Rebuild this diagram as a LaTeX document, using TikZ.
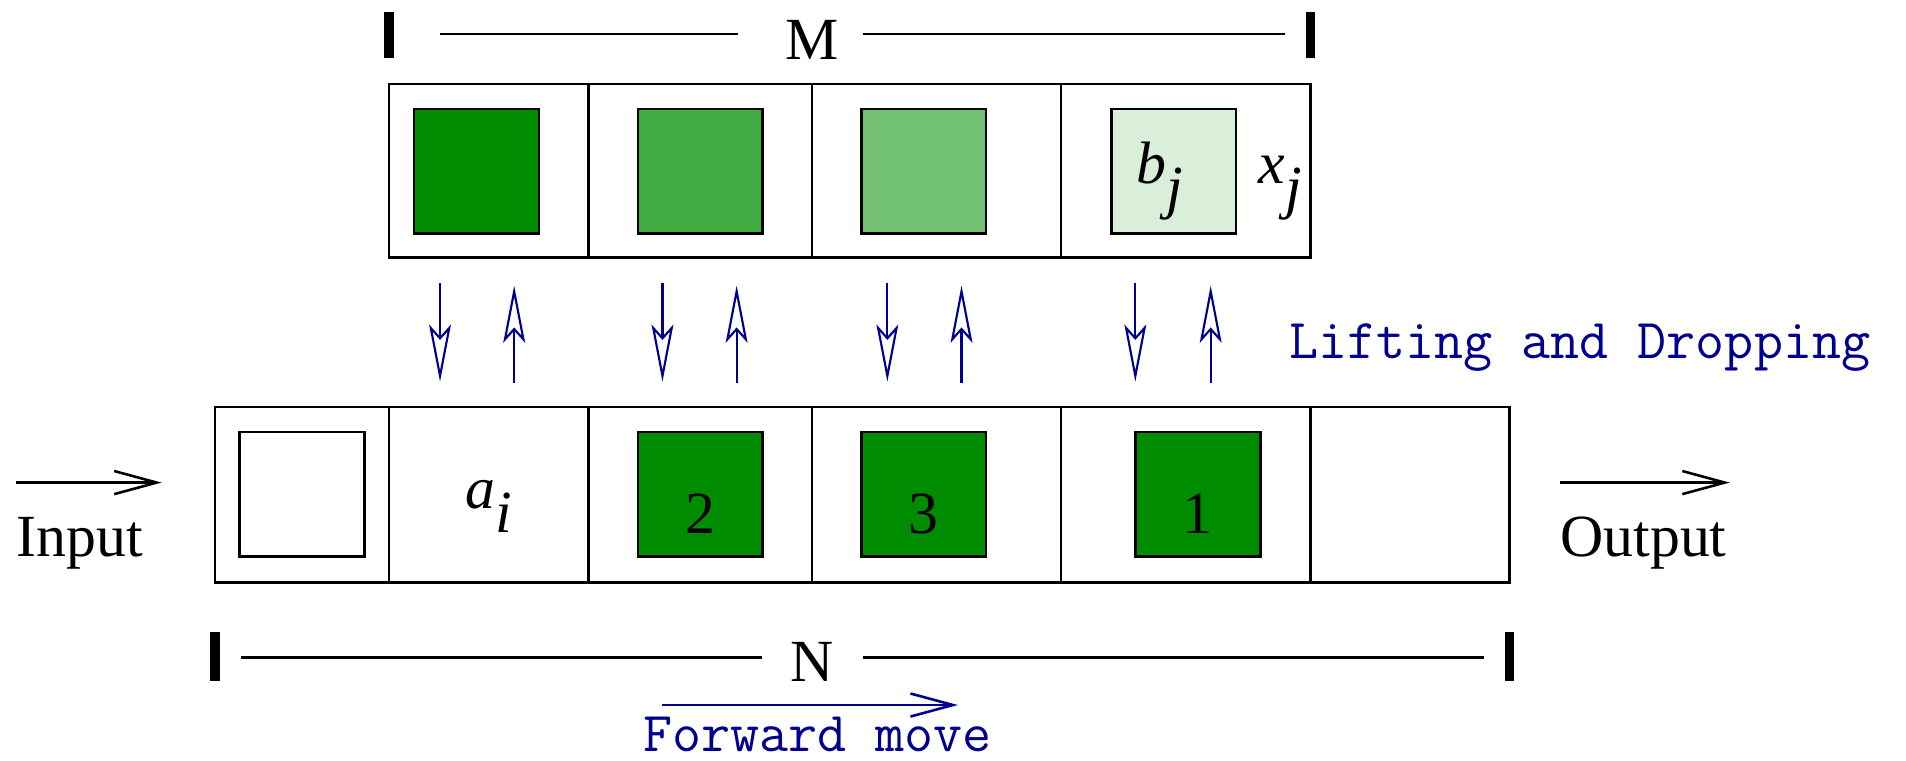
\documentclass[tikz,border=0pt]{standalone}
\usepackage{fontspec}
\setmainfont{Liberation Serif}
\usetikzlibrary{arrows.meta}
\definecolor{greenA}{HTML}{008C00}
\definecolor{greenB}{HTML}{42AB42}
\definecolor{greenC}{HTML}{73C173}
\definecolor{greenD}{HTML}{D9EFD9}
\definecolor{liftblue}{HTML}{000090}
\newcommand{\lowsub}[2]{\textit{#1}\raisebox{-0.4em}{\textit{#2}}}

\begin{document}
\begin{tikzpicture}[
  x=0.1mm, y=-0.1mm,
  cell/.style={rectangle, draw, line width=0.6pt, inner sep=0pt, outer sep=0pt},
  block/.style={rectangle, draw, line width=0.6pt, inner sep=0pt,
                minimum width=10.25mm, minimum height=10.25mm},
  tag/.style={font=\fontsize{14}{16}\selectfont, inner sep=0pt},
  mono/.style={font=\ttfamily\fontsize{13.2}{15}\selectfont, text=liftblue, inner sep=0pt},
  move/.style={-{Straight Barb[length=3.5mm, width=1.9mm]}, line width=0.6pt},
  lift/.style={-{Stealth[open, length=4.7mm, width=1.8mm, inset=1mm]}, liftblue, line width=0.5pt},
  endbar/.style={line width=2.2pt},
  dimline/.style={line width=0.6pt},
]
\useasboundingbox (0,0) rectangle (1568,626);

% upper row (M)
\node[cell, minimum width=16.4mm, minimum height=14.3mm] (mem1) at (402,140.5) {};
\node[cell, minimum width=18.4mm, minimum height=14.3mm] (mem2) at (576,140.5) {};
\node[cell, minimum width=20.5mm, minimum height=14.3mm] (mem3) at (770.5,140.5) {};
\node[cell, minimum width=20.5mm, minimum height=14.3mm] (mem4) at (975.5,140.5) {};
\node[block, fill=greenA] (mblk1) at (392,141) {};
\node[block, fill=greenB] (mblk2) at (576,141) {};
\node[block, fill=greenC] (mblk3) at (760,141) {};
\node[block, fill=greenD] (mblk4) at (965.5,141) {};
\node[tag, anchor=base west] (bj) at (934,151) {\lowsub{b}{j}};
\node[tag, anchor=base west] (xj) at (1035,151) {\lowsub{x}{j}};

% lower row (N)
\node[cell, minimum width=14.3mm, minimum height=14.4mm] (buf1) at (248.5,407) {};
\node[cell, minimum width=16.4mm, minimum height=14.4mm] (buf2) at (402,407) {};
\node[cell, minimum width=18.4mm, minimum height=14.4mm] (buf3) at (576,407) {};
\node[cell, minimum width=20.5mm, minimum height=14.4mm] (buf4) at (770.5,407) {};
\node[cell, minimum width=20.5mm, minimum height=14.4mm] (buf5) at (975.5,407) {};
\node[cell, minimum width=16.4mm, minimum height=14.4mm] (buf6) at (1160,407) {};
\node[block, fill=white] (nblk1) at (248.5,406.5) {};
\node[block, fill=greenA] (nblk2) at (576,406.5) {};
\node[block, fill=greenA] (nblk3) at (760,406.5) {};
\node[block, fill=greenA] (nblk4) at (985.5,406.5) {};
\node[tag, anchor=base] at ([yshift=-3.2mm]nblk2.center) {2};
\node[tag, anchor=base] at ([yshift=-3.2mm]nblk3.center) {3};
\node[tag, anchor=base] at ([yshift=-3.2mm]nblk4.center) {1};
\node[tag, anchor=base west] (ai) at (382,418) {\lowsub{a}{i}};

% lifting and dropping
\foreach \dx/\ux in {362/423, 545/606, 730/791, 934/996} {
  \draw[lift] (\dx,233) -- (\dx,314);
  \draw[lift] (\ux,315) -- (\ux,235);
}
\node[mono, anchor=base west] (lifting) at (1060,295) {Lifting and Dropping};

% input and output
\coordinate (inA) at (13,397);
\coordinate (inB) at (133,397);
\coordinate (outA) at (1283,397);
\coordinate (outB) at (1423,397);
\draw[move] (inA) -- (inB);
\draw[move] (outA) -- (outB);
\node[tag, anchor=base west] (input) at (13,458) {Input};
\node[tag, anchor=base west] (output) at (1283,458) {Output};

% size of M
\node[tag, anchor=base] (msize) at (668,49) {M};
\draw[endbar] (320,10) -- (320,48);
\draw[endbar] (1078,10) -- (1078,48);
\draw[dimline] (362,28) -- (607,28);
\draw[dimline] (710,28) -- (1057,28);

% size of N
\node[tag, anchor=base] (nsize) at (668,561) {N};
\draw[endbar] (177,520) -- (177,560);
\draw[endbar] (1242,520) -- (1242,560);
\draw[dimline] (198,541) -- (627,541);
\draw[dimline] (710,541) -- (1221,541);

% forward move
\draw[move, liftblue] (545,580) -- (788,580);
\node[mono, anchor=base] (forward) at (672.5,618) {Forward move};

\end{tikzpicture}
\end{document}
